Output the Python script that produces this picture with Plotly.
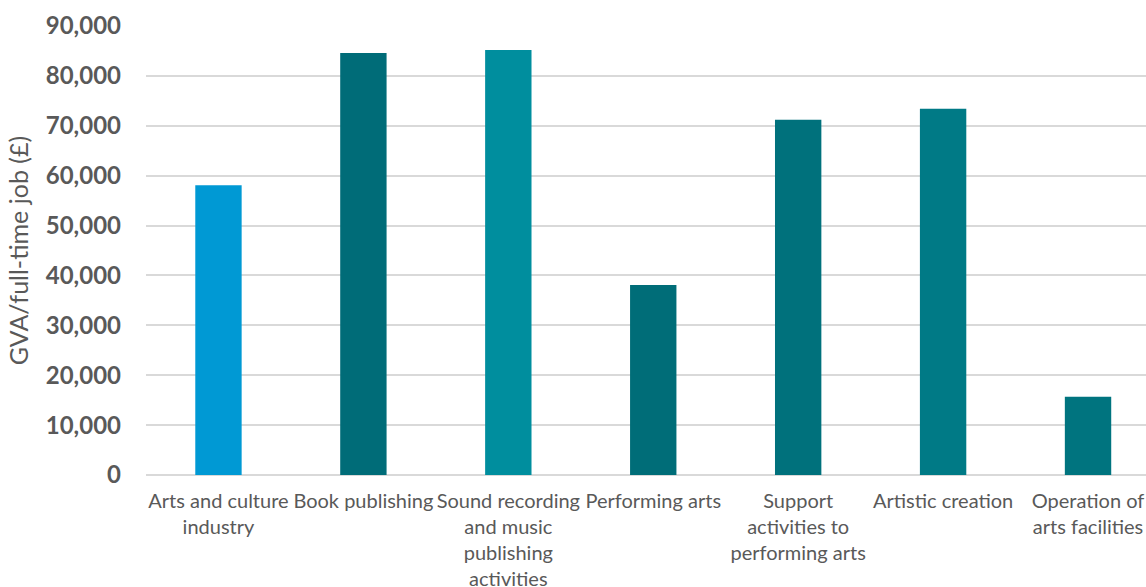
import plotly.graph_objects as go

categories = [
    "Arts and culture<br>industry",
    "Book publishing",
    "Sound recording<br>and music<br>publishing<br>activities",
    "Performing arts",
    "Support<br>activities to<br>performing arts",
    "Artistic creation",
    "Operation of<br>arts facilities",
]
values = [58100, 84600, 85200, 38100, 71200, 73400, 15700]
bar_colors = ["#0099D4", "#006C78", "#008E9E", "#006D78", "#00717C", "#007A86", "#00747F"]
tick_vals = [0, 10000, 20000, 30000, 40000, 50000, 60000, 70000, 80000, 90000]

fig = go.Figure(
    go.Bar(
        x=categories,
        y=values,
        marker=dict(color=bar_colors, line=dict(width=0)),
        width=0.32,
    )
)

font_family = "Lato, 'Open Sans', sans-serif"

fig.update_layout(
    width=1146,
    height=587,
    margin=dict(l=146, r=0, t=26, b=112),
    plot_bgcolor="white",
    paper_bgcolor="white",
    showlegend=False,
    font=dict(family=font_family, color="#595959"),
)
fig.update_xaxes(
    range=[-0.5, 6.4],
    tickfont=dict(size=20, color="#595959"),
    showgrid=False,
    showline=False,
    ticks="",
    ticklabelstandoff=12,
    automargin=False,
)
fig.update_yaxes(
    range=[0, 90000],
    tickvals=tick_vals,
    tickformat=",",
    tickfont=dict(size=24, color="#595959", family=font_family, weight="bold"),
    showgrid=True,
    gridcolor="#D9D9D9",
    gridwidth=1.5,
    zeroline=True,
    zerolinecolor="#D9D9D9",
    zerolinewidth=1.5,
    ticklabelstandoff=24,
    automargin=False,
    title=dict(text="GVA/full-time job (£)", font=dict(size=25, color="#595959"), standoff=10),
)

fig.write_html(
    "out.html",
    config={"displayModeBar": False},
    post_script="document.body.style.margin='0';",
)
